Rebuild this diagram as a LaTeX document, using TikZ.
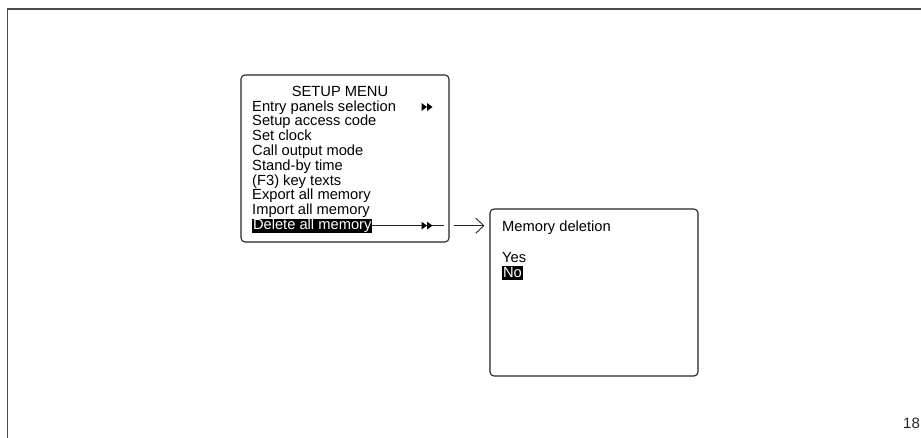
\documentclass[tikz,border=0pt]{standalone}
\usepackage{fontspec}
\setmainfont{Liberation Sans}
\usetikzlibrary{arrows.meta}
\begin{document}
\begin{tikzpicture}[x=1pt,y=-1pt,
  frame/.style={draw=black!70,line width=1.6pt},
  screen/.style={draw=black!85,line width=1.1pt,rounded corners=4pt,minimum width=208pt,minimum height=167pt,inner sep=0pt},
  item/.style={anchor=base west,inner sep=0pt,font=\fontsize{14.7}{15}\selectfont,text=black},
  sel/.style={anchor=base west,inner xsep=0.8pt,inner ysep=0pt,text height=10.6pt,text depth=3.2pt,fill=black,text=white,font=\fontsize{14.7}{15}\selectfont},
  conn/.style={draw=black!85,line width=0.9pt},
  ff/.pic={\fill[black] (0,-4) -- (5.5,0) -- (0,4) -- cycle;
           \fill[black] (5.5,-4) -- (11,0) -- (5.5,4) -- cycle;}
]
\useasboundingbox (0,0) rectangle (921,437);
\fill[white] (0,0) rectangle (921,437);
\draw[frame] (7.5,445) -- (7.5,9) -- (930,9);

% setup menu screen
\node[screen] (menu) at (345,158.5) {};
\node[item,anchor=base] (title) at (340,96.5) {SETUP MENU};
\node[item] (l1) at (252,111) {Entry panels selection};
\node[item] (l2) at (252,125.8) {Setup access code};
\node[item] (l3) at (252,140.6) {Set clock};
\node[item] (l4) at (252,155.4) {Call output mode};
\node[item] (l5) at (252,170.2) {Stand-by time};
\node[item] (l6) at (252,185) {(F3) key texts};
\node[item] (l7) at (252,199.8) {Export all memory};
\node[item] (l8) at (252,214.6) {Import all memory};
\node[sel] (del) at (252,229.4) {Delete all memory};
\pic at (421.5,107) {ff};

% memory deletion screen
\node[screen] (mem) at (594,292.5) {};
\node[item] (mt) at (502,231.5) {Memory deletion};
\node[item] (yes) at (502,262) {Yes};
\node[sel] (no) at (502,277) {No};

% connectors
\coordinate (c1) at ([xshift=-6pt]menu.east |- del.east);
\draw[conn] (del.east) -- (c1);
\pic at (421.5,225.6) {ff};
\draw[conn,-{Straight Barb[length=8pt,width=15pt,line width=0.9pt]},shorten <=4pt,shorten >=5pt]
  (menu.east |- del.east) -- (mem.west |- del.east);

\node[anchor=base west,inner sep=0pt,font=\fontsize{15}{18}\selectfont,text=black!85] (pg) at (903,428) {18};
\end{tikzpicture}
\end{document}
